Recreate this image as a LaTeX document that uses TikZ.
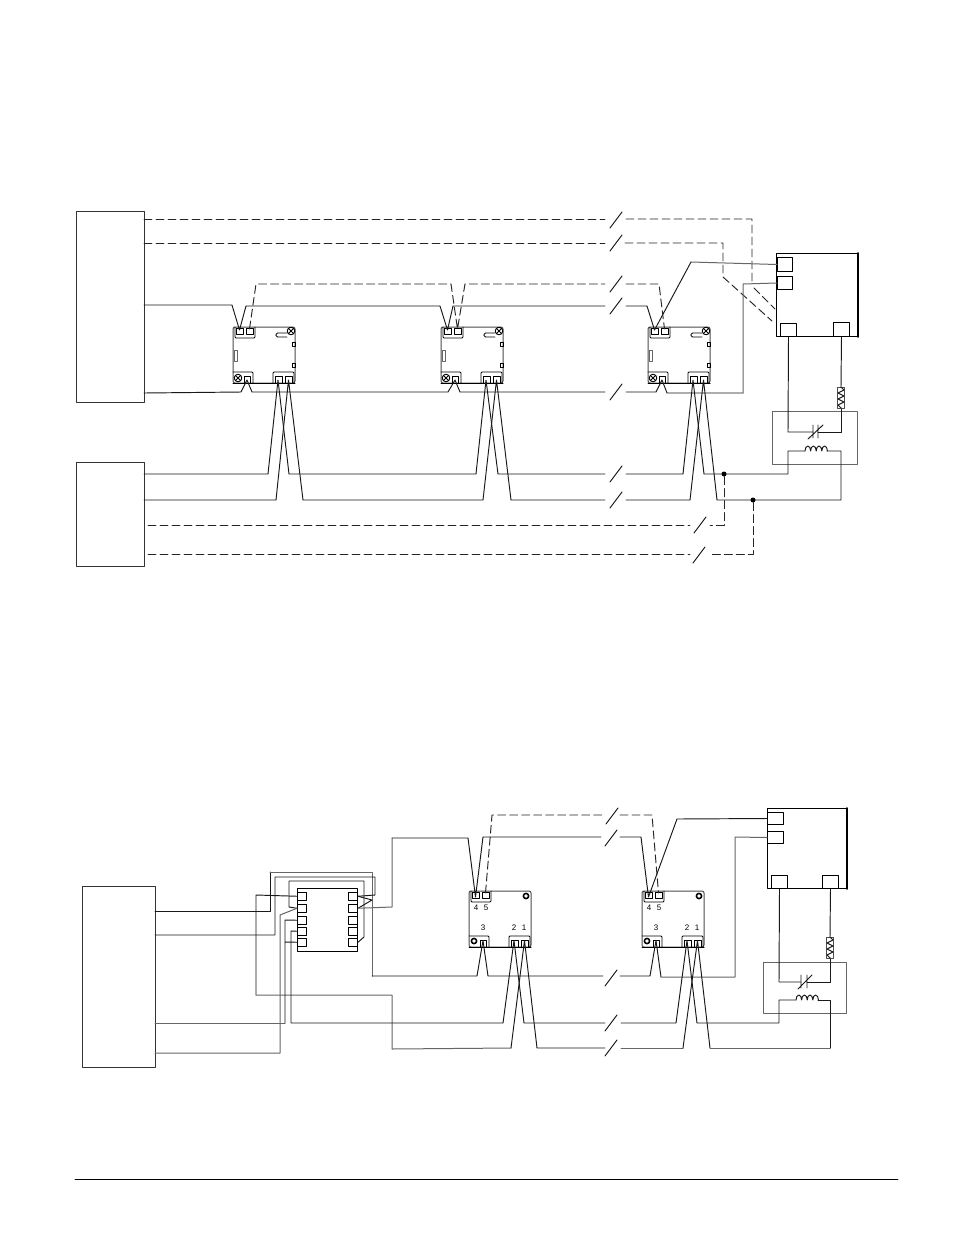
\documentclass[tikz,border=0pt]{standalone}
\usepackage{amsmath}
\usepackage{fontspec}
\setsansfont{Liberation Sans}
\usetikzlibrary{arrows}
\tikzset{
  wire/.style={line width=0.95pt,black!90},
  palewire/.style={line width=1pt,black!60},
  dashwire/.style={line width=0.95pt,black!85,dash pattern=on 8pt off 4pt},
  panel/.style={draw,line width=0.95pt,black!80,rectangle,inner sep=0pt,anchor=north west},
  tagbox/.style={draw,line width=1pt,black,rectangle,inner sep=0pt,anchor=north west,fill=white},
  pintext/.style={font=\sffamily\fontsize{8}{9}\selectfont,inner sep=0pt},
  dot/.style={circle,fill=black,inner sep=0pt,minimum size=5pt}
}
% relay outline: name, x, y, top tip depth, bottom tip depth
\newcommand\relay[5]{
  \begin{scope}[shift={(#2,#3)}]
    \draw [line width=1pt,black!70,rounded corners=2pt] (0,0) rectangle (62,56);
    \draw [line width=0.9pt,rounded corners=1pt] (2,0) -- (2,11) -- (22,11) -- (22,0);
    \draw [line width=0.8pt] (3,1) rectangle (10,7);
    \draw [line width=0.8pt] (13,1) rectangle (20,7);
    \draw [line width=0.9pt,rounded corners=1pt] (0,45) -- (20,45) -- (20,56);
    \draw [line width=0.9pt,rounded corners=1pt] (40,56) -- (40,45) -- (61,45) -- (61,56);
    \draw [line width=0.8pt] (11,49) rectangle (17,56);
    \draw [line width=0.8pt] (42,49) rectangle (49,56);
    \draw [line width=0.8pt] (52,49) rectangle (59,56);
    \draw [line width=1pt] (0,56) -- (62,56);
    \coordinate (#1p4) at (6.5,#4);
    \coordinate (#1p5) at (16.5,2);
    \coordinate (#1p3) at (14,#5);
    \coordinate (#1p2) at (45,#5);
    \coordinate (#1p1) at (55.5,#5);
  \end{scope}
}
\newcommand\brk[2]{\draw [wire] (#1-6,#2+8) -- (#1+6,#2-8);}
\newcommand\coil[2]{
  \draw [wire] (#1,#2) arc[start angle=180,end angle=0,x radius=2.8pt,y radius=5pt]
    arc[start angle=180,end angle=0,x radius=2.8pt,y radius=5pt]
    arc[start angle=180,end angle=0,x radius=2.8pt,y radius=5pt]
    arc[start angle=180,end angle=0,x radius=2.8pt,y radius=5pt];
}
\newcommand\resistor[2]{
  \draw [line width=0.7pt,black!70] (#1-3.5,#2) rectangle (#1+3.5,#2+21);
  \draw [wire] (#1,#2) -- ++(3,3) -- ++(-6,3) -- ++(6,3) -- ++(-6,3) -- ++(6,3) -- ++(-6,3) -- (#1,#2+21);
}
\begin{document}
\begin{tikzpicture}[line cap=round,line join=round,x=1pt,y=-1pt]
  \useasboundingbox (0,0) rectangle (954,1235);
  \fill [white] (0,0) rectangle (954,1235);

  % upper diagram
  \node [panel,minimum width=68pt,minimum height=191pt] (panelA) at (76,211) {};
  \node [panel,minimum width=68pt,minimum height=104pt] (panelB) at (76,462) {};
  \foreach \name/\px in {RA/233,RB/441,RC/648} {
    \relay{\name}{\px}{327}{3}{53}
    \begin{scope}[shift={(\px,327)}]
      \draw [line width=0.9pt] (58,4) circle (3.8pt);
      \draw [line width=0.8pt] (55.5,1.5) -- (60.5,6.5) (55.5,6.5) -- (60.5,1.5);
      \draw [line width=0.9pt] (5,51) circle (3.8pt);
      \draw [line width=0.8pt] (2.5,48.5) -- (7.5,53.5) (2.5,53.5) -- (7.5,48.5);
      \draw [line width=0.8pt,rounded corners=1.5pt] (54,6) -- (43,6) -- (43,10) -- (54,10);
      \draw [line width=0.8pt] (59,15) rectangle (62,19);
      \draw [line width=0.8pt] (59,36) rectangle (62,40);
      \draw [line width=0.7pt,black!60] (1.5,23) rectangle (4,34);
    \end{scope}
  }
  \node [panel,minimum width=81pt,minimum height=83pt,black] (ctrlA) at (776,253) {};
  \draw [line width=1.6pt] (ctrlA.north east) -- (ctrlA.south east);
  \node [tagbox,minimum width=15pt,minimum height=14pt] (ctrlAa) at (777,257) {};
  \node [tagbox,minimum width=15pt,minimum height=13pt] (ctrlAb) at (777,276) {};
  \node [tagbox,minimum width=16pt,minimum height=13pt] (ctrlAc) at (780,323) {};
  \node [tagbox,minimum width=16pt,minimum height=14pt] (ctrlAd) at (833,322) {};
  \node [panel,minimum width=85pt,minimum height=53pt,black!60] (coilA) at (772,411) {};

  \draw [dashwire] (144,219) -- (605,219);
  \draw [dashwire] (626,219) -- (752,219) -- (752,284) (754,288) -- (775,309);
  \brk{616}{220}
  \draw [dashwire] (144,243) -- (605,243);
  \draw [dashwire] (625,243) -- (723,243) -- (723,277) -- (772,321);
  \brk{616}{243}
  \draw [wire] (144,305) -- (232,305) -- (RAp4) -- (246,306) -- (440,306) -- (RBp4) -- (453,306) -- (605,306);
  \brk{616}{306}
  \draw [wire] (626,306) -- (647,306) -- (RCp4) -- (691,262);
  \draw [palewire] (691,262) -- (ctrlAa.west);
  \draw [dashwire] (RAp5) -- (256,284) -- (451,284) -- (RBp5) -- (465,284) -- (605,284);
  \brk{616}{284}
  \draw [dashwire] (626,284) -- (659,284) -- (RCp5);
  \draw [wire] (144,393) -- (241,392) -- (RAp3) -- (252,392) -- (448,392) -- (RBp3) -- (460,392) -- (605,392);
  \brk{616}{392}
  \draw [wire] (626,392) -- (656,392) -- (RCp3) -- (667,393) -- (743,393);
  \draw [palewire] (743,393) -- (743,284) -- (ctrlAb.west);
  \draw [wire] (144,474) -- (268,474) -- (RAp2) -- (289,474) -- (476,474) -- (RBp2) -- (498,474) -- (605,474);
  \brk{616}{474}
  \draw [wire] (626,474) -- (683,474) -- (RCp2) -- (704,474) -- (788,474) -- (788,451) -- (805,451);
  \draw [wire] (144,500) -- (276,500) -- (RAp1) -- (303,500) -- (483,500) -- (RBp1) -- (511,500) -- (605,500);
  \brk{616}{500}
  \draw [wire] (626,500) -- (690,500) -- (RCp1) -- (717,500) -- (841,500) -- (841,451) -- (827,451);
  \coil{805}{451}
  \node [dot] (jointA) at (724,474) {};
  \node [dot] (jointB) at (753,500) {};
  \draw [dashwire] (148,525) -- (690,525);
  \brk{700}{525}
  \draw [dashwire] (jointA) -- (724,525) -- (710,525);
  \draw [dashwire] (148,554) -- (690,554);
  \brk{699}{555}
  \draw [dashwire] (jointB) -- (753,554) -- (710,554);
  \draw [wire] (ctrlAc.south) -- (788,432) -- (813,432);
  \draw [wire] (818,432) -- (841,432) -- (841,408);
  \draw [wire] (ctrlAd.south) -- (841,387);
  \draw [wire] (813,425) -- (813,438) (818,425) -- (818,438) (808,439) -- (823,425);
  \resistor{841}{387}

  % lower diagram
  \node [panel,minimum width=73pt,minimum height=181pt] (panelC) at (82,886) {};
  \node [panel,minimum width=60pt,minimum height=63pt,black] (chip) at (297,888) {};
  \foreach \py [count=\i] in {892,904,916,927,938} {
    \node [tagbox,minimum width=9pt,minimum height=7.5pt] (chipL\i) at (297,\py) {};
    \node [tagbox,minimum width=9pt,minimum height=7.5pt] (chipR\i) at (348,\py) {};
  }
  \foreach \name/\px in {RD/469,RE/642} {
    \relay{\name}{\px}{891}{6}{49.5}
    \begin{scope}[shift={(\px,891)}]
      \draw [line width=1.6pt] (57,5) circle (2.6pt);
      \draw [line width=1.6pt] (5,50) circle (2.6pt);
      \node [pintext] (\name l4) at (7,17) {4};
      \node [pintext] (\name l5) at (17,17) {5};
      \node [pintext] (\name l3) at (14,37) {3};
      \node [pintext] (\name l2) at (45,37) {2};
      \node [pintext] (\name l1) at (55,37) {1};
    \end{scope}
  }
  \node [panel,minimum width=79pt,minimum height=80pt,black] (ctrlB) at (767,808) {};
  \draw [line width=1.6pt] (ctrlB.north east) -- (ctrlB.south east);
  \node [tagbox,minimum width=16pt,minimum height=12pt] (ctrlBa) at (767,812) {};
  \node [tagbox,minimum width=16pt,minimum height=12pt] (ctrlBb) at (767,831) {};
  \node [tagbox,minimum width=16pt,minimum height=13pt] (ctrlBc) at (771,875) {};
  \node [tagbox,minimum width=16pt,minimum height=13pt] (ctrlBd) at (822,875) {};
  \node [panel,minimum width=83pt,minimum height=51pt,black!60] (coilB) at (763,962) {};

  \draw [wire] (155,911) -- (270,911) -- (270,872);
  \draw [palewire] (270,872) -- (372,872) -- (372,976);
  \draw [wire] (372,976) -- (477,976) -- (RDp3) -- (488,976) -- (603,976);
  \brk{611}{978}
  \draw [wire] (620,976) -- (650,976) -- (REp3) -- (661,977);
  \draw [palewire] (661,977) -- (735,977) -- (735,837) -- (ctrlBb.west);
  \draw [wire] (155,935) -- (275,935) -- (275,877) -- (375,877) -- (375,895) -- (chipR1.east);
  \draw [wire] (chipR1.east) -- (372,900) -- (chipR2.east);
  \draw [wire] (chipL2.west) -- (289,907) -- (289,881) -- (364,881) -- (364,937) -- (chipR5.east);
  \draw [palewire] (chipR2.east) -- (392,907) -- (392,838);
  \draw [wire] (392,838) -- (468,838) -- (RDp4) -- (483,837) -- (601,837);
  \brk{611}{838}
  \draw [wire] (620,837) -- (641,837) -- (REp4) -- (677,819) -- (ctrlBa.west);
  \draw [dashwire] (RDp5) -- (492,815) -- (605,815);
  \brk{612}{816}
  \draw [dashwire] (620,815) -- (652,815) -- (REp5);
  \draw [wire] (chipL1.west) -- (256,895) -- (256,995);
  \draw [palewire] (256,995) -- (392,995) -- (392,1049) -- (511,1048);
  \draw [wire] (511,1048) -- (RDp1) -- (537,1048) -- (605,1048);
  \brk{611}{1048}
  \draw [palewire] (621,1048) -- (683,1048);
  \draw [wire] (683,1048) -- (REp1) -- (710,1048);
  \draw [palewire] (710,1048) -- (830,1048);
  \draw [wire] (830,1048) -- (830,1000) -- (818,1000);
  \draw [palewire] (155,1023) -- (285,1023);
  \draw [wire] (285,1023) -- (285,920) -- (chipL3.west) (285,942) -- (chipL5.west);
  \draw [palewire] (155,1053) -- (280,1053) -- (280,915) -- (chipL2.west);
  \draw [wire] (chipL4.west) -- (291,931) -- (291,1023) -- (503,1023) -- (RDp2) -- (524,1023) -- (605,1023);
  \brk{611}{1023}
  \draw [wire] (621,1023) -- (676,1023) -- (REp2) -- (697,1023) -- (779,1023) -- (779,1000) -- (796,1000);
  \coil{796}{1000}
  \draw [wire] (ctrlBc.south) -- (779,982) -- (801,982);
  \draw [wire] (807,982) -- (830,982) -- (830,958);
  \draw [wire] (ctrlBd.south) -- (830,937);
  \draw [wire] (801,975) -- (801,988) (807,975) -- (807,988) (798,989) -- (812,975);
  \resistor{830}{937}

  % footer rule
  \draw [line width=0.8pt] (75,1179) -- (898,1179);
\end{tikzpicture}
\end{document}
